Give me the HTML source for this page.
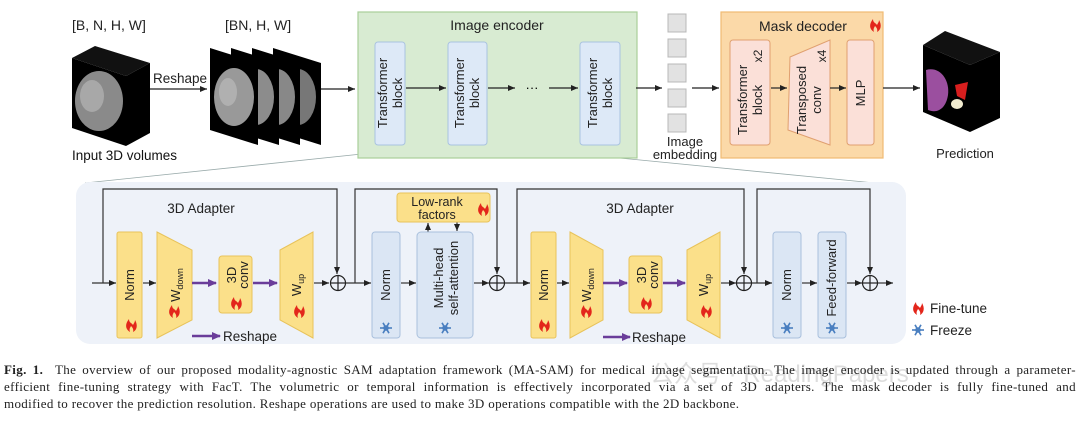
<!DOCTYPE html>
<html><head><meta charset="utf-8"><style>
html,body{margin:0;padding:0;background:#fff;}
svg{display:block;font-family:"Liberation Sans","DejaVu Sans",sans-serif;}
.cap{position:absolute;left:4px;width:1072px;font-family:"Liberation Serif",serif;font-size:13px;letter-spacing:0.35px;line-height:17px;color:#222;text-align:justify;text-align-last:justify;white-space:nowrap;}
</style></head><body>
<div style="position:relative;width:1080px;height:423px;overflow:hidden;">
<svg width="1080" height="423" viewBox="0 0 1080 423">
<defs>
<marker id="a" markerWidth="8" markerHeight="8" refX="7" refY="4" orient="auto" markerUnits="userSpaceOnUse"><path d="M0,1 L7,4 L0,7 Z" fill="#222"/></marker>
<marker id="p" markerWidth="10" markerHeight="10" refX="8" refY="5" orient="auto" markerUnits="userSpaceOnUse"><path d="M0,1 L9,5 L0,9 Z" fill="#6a3d9a"/></marker>
<g id="flame"><path d="M0,0 C-5,-3 -5,-8 -1,-13 C-1,-9 2,-9 3,-7 C4,-9 5,-10 5,-12 C8,-7 7,-2 3,0 C4,-3 2,-5 1,-6 C0,-4 -1,-3 0,0 Z" fill="#e3261b"/></g>
<g id="snow" stroke="#4a7fc0" stroke-width="1.6"><line x1="-6" y1="0" x2="6" y2="0"/><line x1="-3" y1="-5.2" x2="3" y2="5.2"/><line x1="-3" y1="5.2" x2="3" y2="-5.2"/><circle r="2" fill="none"/></g>
</defs>
<text x="72" y="30" font-size="14" fill="#222">[B, N, H, W]</text>
<text x="225" y="30" font-size="14" fill="#222">[BN, H, W]</text>
<polygon points="72,58 95,46 150,63 126,76" fill="#111"/>
<polygon points="126,76 150,63 150,133 126,146" fill="#000"/>
<polygon points="72,58 126,76 126,146 72,128" fill="#000"/>
<ellipse cx="99" cy="101" rx="24" ry="30" fill="#8a8a8a"/>
<ellipse cx="92" cy="96" rx="12" ry="16" fill="#a8a8a8"/>
<text x="72" y="160" font-size="13.5" fill="#111">Input 3D volumes</text>
<text x="153" y="83" font-size="13.5" fill="#222">Reshape</text>
<line x1="150" y1="89" x2="207" y2="89" stroke="#222" stroke-width="1.2" marker-end="url(#a)"/>
<g>
<polygon points="273,48 321,63 321,145 273,130" fill="#000"/><ellipse cx="298" cy="97" rx="18" ry="28" fill="#777"/>
<polygon points="252,48 300,63 300,145 252,130" fill="#000"/><ellipse cx="277" cy="97" rx="18" ry="28" fill="#888"/>
<polygon points="231,48 279,63 279,145 231,130" fill="#000"/><ellipse cx="256" cy="97" rx="18" ry="28" fill="#8c8c8c"/>
<polygon points="210,48 258,63 258,145 210,130" fill="#000"/><ellipse cx="234" cy="97" rx="20" ry="29" fill="#999"/><ellipse cx="228" cy="92" rx="9" ry="14" fill="#b0b0b0"/>
</g>
<line x1="321" y1="89" x2="355" y2="89" stroke="#222" stroke-width="1.2" marker-end="url(#a)"/>
<line x1="448" y1="145" x2="85" y2="183" stroke="#9aa" stroke-width="0.8"/>
<line x1="487" y1="145" x2="895" y2="185" stroke="#9aa" stroke-width="0.8"/>
<rect x="358" y="12" width="279" height="146" fill="#d8ebd2" stroke="#a9cf9a" stroke-width="1.2"/>
<text x="497" y="30" font-size="14" text-anchor="middle" fill="#222">Image encoder</text>
<g fill="#dde9f7" stroke="#a9c3e0" stroke-width="1">
<rect x="375" y="42" width="30" height="103" rx="3"/>
<rect x="448" y="42" width="39" height="103" rx="3"/>
<rect x="580" y="42" width="40" height="103" rx="3"/>
</g>
<g font-size="13" fill="#222" text-anchor="middle">
<text transform="translate(395,93) rotate(-90)"><tspan x="0" dy="-8">Transformer</tspan><tspan x="0" dy="15">block</tspan></text>
<text transform="translate(472,93) rotate(-90)"><tspan x="0" dy="-8">Transformer</tspan><tspan x="0" dy="15">block</tspan></text>
<text transform="translate(605,93) rotate(-90)"><tspan x="0" dy="-8">Transformer</tspan><tspan x="0" dy="15">block</tspan></text>
</g>
<g stroke="#222" stroke-width="1.2">
<line x1="406" y1="88" x2="446" y2="88" marker-end="url(#a)"/>
<line x1="488" y1="88" x2="515" y2="88" marker-end="url(#a)"/>
<line x1="549" y1="88" x2="578" y2="88" marker-end="url(#a)"/>
<line x1="636" y1="88" x2="662" y2="88" marker-end="url(#a)"/>
<line x1="692" y1="88" x2="719" y2="88" marker-end="url(#a)"/>
</g>
<text x="532" y="92" font-size="13" text-anchor="middle">···</text>
<g fill="#e2e2e2" stroke="#b8b8b8">
<rect x="668" y="14" width="18" height="18"/><rect x="668" y="39" width="18" height="18"/><rect x="668" y="64" width="18" height="18"/><rect x="668" y="89" width="18" height="18"/><rect x="668" y="114" width="18" height="18"/>
</g>
<text x="685" y="146" font-size="13" text-anchor="middle" fill="#222">Image</text>
<text x="685" y="159" font-size="13" text-anchor="middle" fill="#222">embedding</text>
<rect x="721" y="12" width="162" height="146" fill="#fbd9a8" stroke="#f0bb73" stroke-width="1.2"/>
<text x="759" y="31" font-size="14" fill="#222">Mask decoder</text>
<use href="#flame" x="874" y="32"/>
<rect x="730" y="40" width="40" height="105" rx="3" fill="#fbe0d8" stroke="#e0a070"/>
<polygon points="790,57 830,40 830,145 788,130" fill="#fbe0d8" stroke="#e0a070"/>
<rect x="847" y="40" width="27" height="105" rx="3" fill="#fbe0d8" stroke="#e0a070"/>
<g font-size="13" fill="#222" text-anchor="middle">
<text transform="translate(749,100) rotate(-90)"><tspan x="0" dy="-2">Transformer</tspan><tspan x="0" dy="15">block</tspan></text>
<text transform="translate(762,56) rotate(-90)" font-size="12">x2</text>
<text transform="translate(808,100) rotate(-90)"><tspan x="0" dy="-2">Transposed</tspan><tspan x="0" dy="15">conv</tspan></text>
<text transform="translate(826,56) rotate(-90)" font-size="12">x4</text>
<text transform="translate(865,93) rotate(-90)">MLP</text>
</g>
<g stroke="#222" stroke-width="1.2">
<line x1="771" y1="88" x2="787" y2="88" marker-end="url(#a)"/>
<line x1="830" y1="88" x2="846" y2="88" marker-end="url(#a)"/>
<line x1="883" y1="88" x2="920" y2="88" marker-end="url(#a)"/>
</g>
<polygon points="923,45 945,31 1000,52 970,65" fill="#111"/>
<polygon points="970,65 1000,52 1000,118 970,132" fill="#000"/>
<polygon points="923,45 970,65 970,132 923,112" fill="#000"/>
<path d="M926,70 C940,66 950,80 948,95 C946,108 938,114 928,110 Z" fill="#9b4f9f"/>
<path d="M955,85 L968,82 L965,100 L957,96 Z" fill="#d81e1e"/>
<ellipse cx="957" cy="104" rx="6" ry="5" fill="#f2ecd0"/>
<text x="965" y="158" font-size="13" text-anchor="middle" fill="#222">Prediction</text>
<rect x="76" y="182" width="830" height="162" rx="14" fill="#eef2f9"/>
<g stroke="#333" stroke-width="1.2" fill="none">
<polyline points="103,283 103,189 337,189 337,274" marker-end="url(#a)"/>
<polyline points="355,283 355,189 497,189 497,274" marker-end="url(#a)"/>
<polyline points="517,283 517,189 744,189 744,274" marker-end="url(#a)"/>
<polyline points="757,283 757,189 870,189 870,274" marker-end="url(#a)"/>
<line x1="92" y1="283" x2="116" y2="283" marker-end="url(#a)"/>
<line x1="143" y1="283" x2="156" y2="283" marker-end="url(#a)"/>
<line x1="314" y1="283" x2="329" y2="283" marker-end="url(#a)"/>
<line x1="346" y1="283" x2="371" y2="283" marker-end="url(#a)"/>
<line x1="401" y1="283" x2="416" y2="283" marker-end="url(#a)"/>
<line x1="474" y1="283" x2="489" y2="283" marker-end="url(#a)"/>
<line x1="505" y1="283" x2="530" y2="283" marker-end="url(#a)"/>
<line x1="557" y1="283" x2="569" y2="283" marker-end="url(#a)"/>
<line x1="721" y1="283" x2="736" y2="283" marker-end="url(#a)"/>
<line x1="752" y1="283" x2="772" y2="283" marker-end="url(#a)"/>
<line x1="802" y1="283" x2="817" y2="283" marker-end="url(#a)"/>
<line x1="847" y1="283" x2="862" y2="283" marker-end="url(#a)"/>
<line x1="878" y1="283" x2="893" y2="283" marker-end="url(#a)"/>
<line x1="428" y1="232" x2="428" y2="223" marker-end="url(#a)"/>
<line x1="457" y1="222" x2="457" y2="231" marker-end="url(#a)"/>
</g>
<g stroke="#222" stroke-width="1.2" fill="none">
<circle cx="338" cy="283" r="7.5"/><line x1="330.5" y1="283" x2="345.5" y2="283"/><line x1="338" y1="275.5" x2="338" y2="290.5"/>
<circle cx="497" cy="283" r="7.5"/><line x1="489.5" y1="283" x2="504.5" y2="283"/><line x1="497" y1="275.5" x2="497" y2="290.5"/>
<circle cx="744" cy="283" r="7.5"/><line x1="736.5" y1="283" x2="751.5" y2="283"/><line x1="744" y1="275.5" x2="744" y2="290.5"/>
<circle cx="870" cy="283" r="7.5"/><line x1="862.5" y1="283" x2="877.5" y2="283"/><line x1="870" y1="275.5" x2="870" y2="290.5"/>
</g>
<text x="201" y="213" font-size="13.5" text-anchor="middle" fill="#222">3D Adapter</text>
<text x="640" y="213" font-size="13.5" text-anchor="middle" fill="#222">3D Adapter</text>
<g fill="#fbe08a" stroke="#e8c35a" stroke-width="1">
<rect x="117" y="232" width="25" height="106" rx="2"/>
<polygon points="157,232 192,250 192,320 157,338"/>
<rect x="219" y="256" width="33" height="57" rx="3"/>
<polygon points="280,250 313,232 313,338 280,320"/>
<rect x="531" y="232" width="25" height="106" rx="2"/>
<polygon points="570,232 603,250 603,320 570,338"/>
<rect x="629" y="256" width="33" height="57" rx="3"/>
<polygon points="687,250 720,232 720,338 687,320"/>
<rect x="397" y="193" width="93" height="29" rx="3"/>
</g>
<g fill="#dbe6f4" stroke="#a9c0dd" stroke-width="1">
<rect x="372" y="232" width="28" height="106" rx="3"/>
<rect x="417" y="232" width="56" height="106" rx="4"/>
<rect x="773" y="232" width="28" height="106" rx="3"/>
<rect x="818" y="232" width="28" height="106" rx="3"/>
</g>
<g stroke="#6a3d9a" stroke-width="2.4">
<line x1="192" y1="283" x2="216" y2="283" marker-end="url(#p)"/>
<line x1="253" y1="283" x2="277" y2="283" marker-end="url(#p)"/>
<line x1="192" y1="336" x2="220" y2="336" marker-end="url(#p)"/>
<line x1="603" y1="283" x2="627" y2="283" marker-end="url(#p)"/>
<line x1="663" y1="283" x2="685" y2="283" marker-end="url(#p)"/>
<line x1="603" y1="337" x2="630" y2="337" marker-end="url(#p)"/>
</g>
<text x="223" y="341" font-size="13.5" fill="#222">Reshape</text>
<text x="632" y="342" font-size="13.5" fill="#222">Reshape</text>
<g font-size="13" fill="#222" text-anchor="middle">
<text transform="translate(134,285) rotate(-90)">Norm</text>
<text transform="translate(180,285) rotate(-90)">W<tspan font-size="9" dy="3">down</tspan></text>
<text transform="translate(238,275) rotate(-90)"><tspan x="0" dy="-2">3D</tspan><tspan x="0" dy="12">conv</tspan></text>
<text transform="translate(301,285) rotate(-90)">W<tspan font-size="9" dy="3">up</tspan></text>
<text transform="translate(390,285) rotate(-90)">Norm</text>
<text transform="translate(445,278) rotate(-90)"><tspan x="0" dy="-2">Multi-head</tspan><tspan x="0" dy="15">self-attention</tspan></text>
<text x="437" y="206" font-size="12.5">Low-rank</text>
<text x="437" y="219" font-size="12.5">factors</text>
<text transform="translate(548,285) rotate(-90)">Norm</text>
<text transform="translate(591,285) rotate(-90)">W<tspan font-size="9" dy="3">down</tspan></text>
<text transform="translate(648,275) rotate(-90)"><tspan x="0" dy="-2">3D</tspan><tspan x="0" dy="12">conv</tspan></text>
<text transform="translate(708,285) rotate(-90)">W<tspan font-size="9" dy="3">up</tspan></text>
<text transform="translate(791,285) rotate(-90)">Norm</text>
<text transform="translate(836,278) rotate(-90)">Feed-forward</text>
</g>
<use href="#flame" x="130" y="332"/><use href="#flame" x="173" y="318"/><use href="#flame" x="235" y="310"/><use href="#flame" x="298" y="318"/><use href="#flame" x="482" y="216"/>
<use href="#flame" x="543" y="332"/><use href="#flame" x="585" y="318"/><use href="#flame" x="645" y="310"/><use href="#flame" x="705" y="318"/>
<use href="#snow" x="386" y="328"/><use href="#snow" x="445" y="328"/><use href="#snow" x="787" y="328"/><use href="#snow" x="832" y="328"/>
<use href="#flame" x="917" y="315"/>
<text x="930" y="313" font-size="13.5" fill="#222">Fine-tune</text>
<use href="#snow" x="918" y="330"/>
<text x="930" y="335" font-size="13.5" fill="#222">Freeze</text>
<text x="650" y="382" font-size="24" fill="#c8c8c8" opacity="0.6">公众号 · ReadingPapers</text>
</svg>
<div class="cap" style="top:361px;"><b>Fig. 1.</b>&nbsp; The overview of our proposed modality-agnostic SAM adaptation framework (MA-SAM) for medical image segmentation. The image encoder is updated through a parameter-</div>
<div class="cap" style="top:378px;">efficient fine-tuning strategy with FacT. The volumetric or temporal information is effectively incorporated via a set of 3D adapters. The mask decoder is fully fine-tuned and</div>
<div class="cap" style="top:395px;text-align-last:left;">modified to recover the prediction resolution. Reshape operations are used to make 3D operations compatible with the 2D backbone.</div>
</div>
</body></html>
